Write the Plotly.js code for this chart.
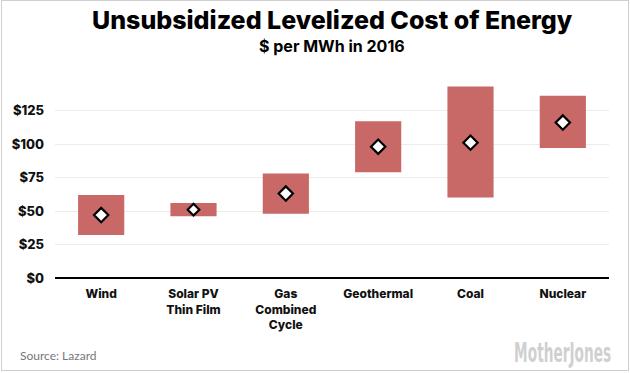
<!DOCTYPE html>
<html>
<head>
<meta charset="utf-8">
<script src="https://cdn.plot.ly/plotly-3.0.1.min.js"></script>
<style>
  html, body { margin: 0; padding: 0; background: #fff; }
  #wrap { position: relative; width: 630px; height: 373px; }
  #frame { position: absolute; left: 1px; top: 0px; width: 626px; height: 369px; border: 1px solid #cfcfcf; pointer-events: none; }
</style>
</head>
<body>
<div id="wrap">
  <div id="chart" style="width:630px;height:373px;"></div>
  <div id="frame"></div>
</div>
<script>
const categories = ["Wind", "Solar PV<br>Thin Film", "Gas<br>Combined<br>Cycle", "Geothermal", "Coal", "Nuclear"];
const lowValues = [32, 46, 48, 79, 60, 97];
const highValues = [62, 56, 78, 117, 143, 136];
const midValues = [47, 51, 63, 98, 101, 116];
const yTickValues = [0, 25, 50, 75, 100, 125];
const yTickLabels = ["$0", "$25", "$50", "$75", "$100", "$125"];

const rangeTrace = {
  type: "bar",
  x: categories,
  y: highValues.map((h, i) => h - lowValues[i]),
  base: lowValues,
  width: 0.5,
  marker: { color: "#c86967" },
  hoverinfo: "skip"
};
const midTrace = {
  type: "scatter",
  mode: "markers",
  x: categories,
  y: midValues,
  marker: {
    symbol: "diamond",
    size: [11, 9, 11, 11, 11, 11],
    opacity: 1,
    color: "#ffffff",
    line: { color: "#000000", width: 2.2 }
  },
  hoverinfo: "skip"
};

const layout = {
  width: 630,
  height: 373,
  margin: { l: 55, r: 21, t: 77, b: 95 },
  paper_bgcolor: "#ffffff",
  plot_bgcolor: "#ffffff",
  showlegend: false,
  font: { family: "Inter, sans-serif", color: "#111" },
  xaxis: {
    type: "category",
    tickfont: { family: "Inter, sans-serif", size: 12, color: "#111", weight: 800 },
    showgrid: false,
    showline: false,
    ticks: "",
    ticklabelstandoff: 7,
    fixedrange: true
  },
  yaxis: {
    range: [0, 150],
    tickvals: yTickValues,
    ticktext: yTickLabels,
    tickfont: { family: "Inter, sans-serif", size: 13, color: "#111", weight: 800 },
    showgrid: true,
    gridcolor: "#ececec",
    gridwidth: 1,
    zeroline: true,
    zerolinecolor: "#000",
    zerolinewidth: 1.5,
    ticks: "",
    ticklabelstandoff: 10,
    fixedrange: true
  },
  annotations: [
    {
      text: "Unsubsidized Levelized Cost of Energy",
      xref: "paper", yref: "paper", x: 0.5, y: 1, xanchor: "center", yanchor: "middle",
      yshift: 57, showarrow: false,
      font: { family: "Inter, sans-serif", size: 25, color: "#000", weight: 800 }
    },
    {
      text: "$ per MWh in 2016",
      xref: "paper", yref: "paper", x: 0.5, y: 1, xanchor: "center", yanchor: "middle",
      yshift: 31, showarrow: false,
      font: { family: "Inter, sans-serif", size: 16, color: "#000", weight: 700 }
    },
    {
      text: "Source: Lazard",
      xref: "paper", yref: "paper", x: 0, y: 0, xanchor: "left", yanchor: "middle",
      xshift: -37, yshift: -77, showarrow: false,
      font: { family: "Lato, sans-serif", size: 12, color: "#777" }
    },
    {
      text: "MotherJones",
      xref: "paper", yref: "paper", x: 0.916, y: 0, xanchor: "center", yanchor: "middle",
      yshift: -74, showarrow: false,
      font: { family: "DejaVu Sans Condensed, sans-serif", size: 19, color: "#d0d0d0", weight: 700 }
    }
  ]
};

Plotly.newPlot("chart", [rangeTrace, midTrace], layout, { displayModeBar: false, staticPlot: true }).then(function (gd) {
  const texts = gd.querySelectorAll(".annotation-text");
  texts.forEach(function (t) {
    if (t.textContent === "MotherJones") {
      const bb = t.getBBox();
      const cx = bb.x + bb.width / 2;
      const cy = bb.y + bb.height / 2;
      const sx = 97 / bb.width;
      const sy = 1.4;
      t.setAttribute("transform", "translate(" + cx + "," + cy + ") scale(" + sx + "," + sy + ") translate(" + (-cx) + "," + (-cy) + ")");
    }
  });
});
</script>
</body>
</html>
